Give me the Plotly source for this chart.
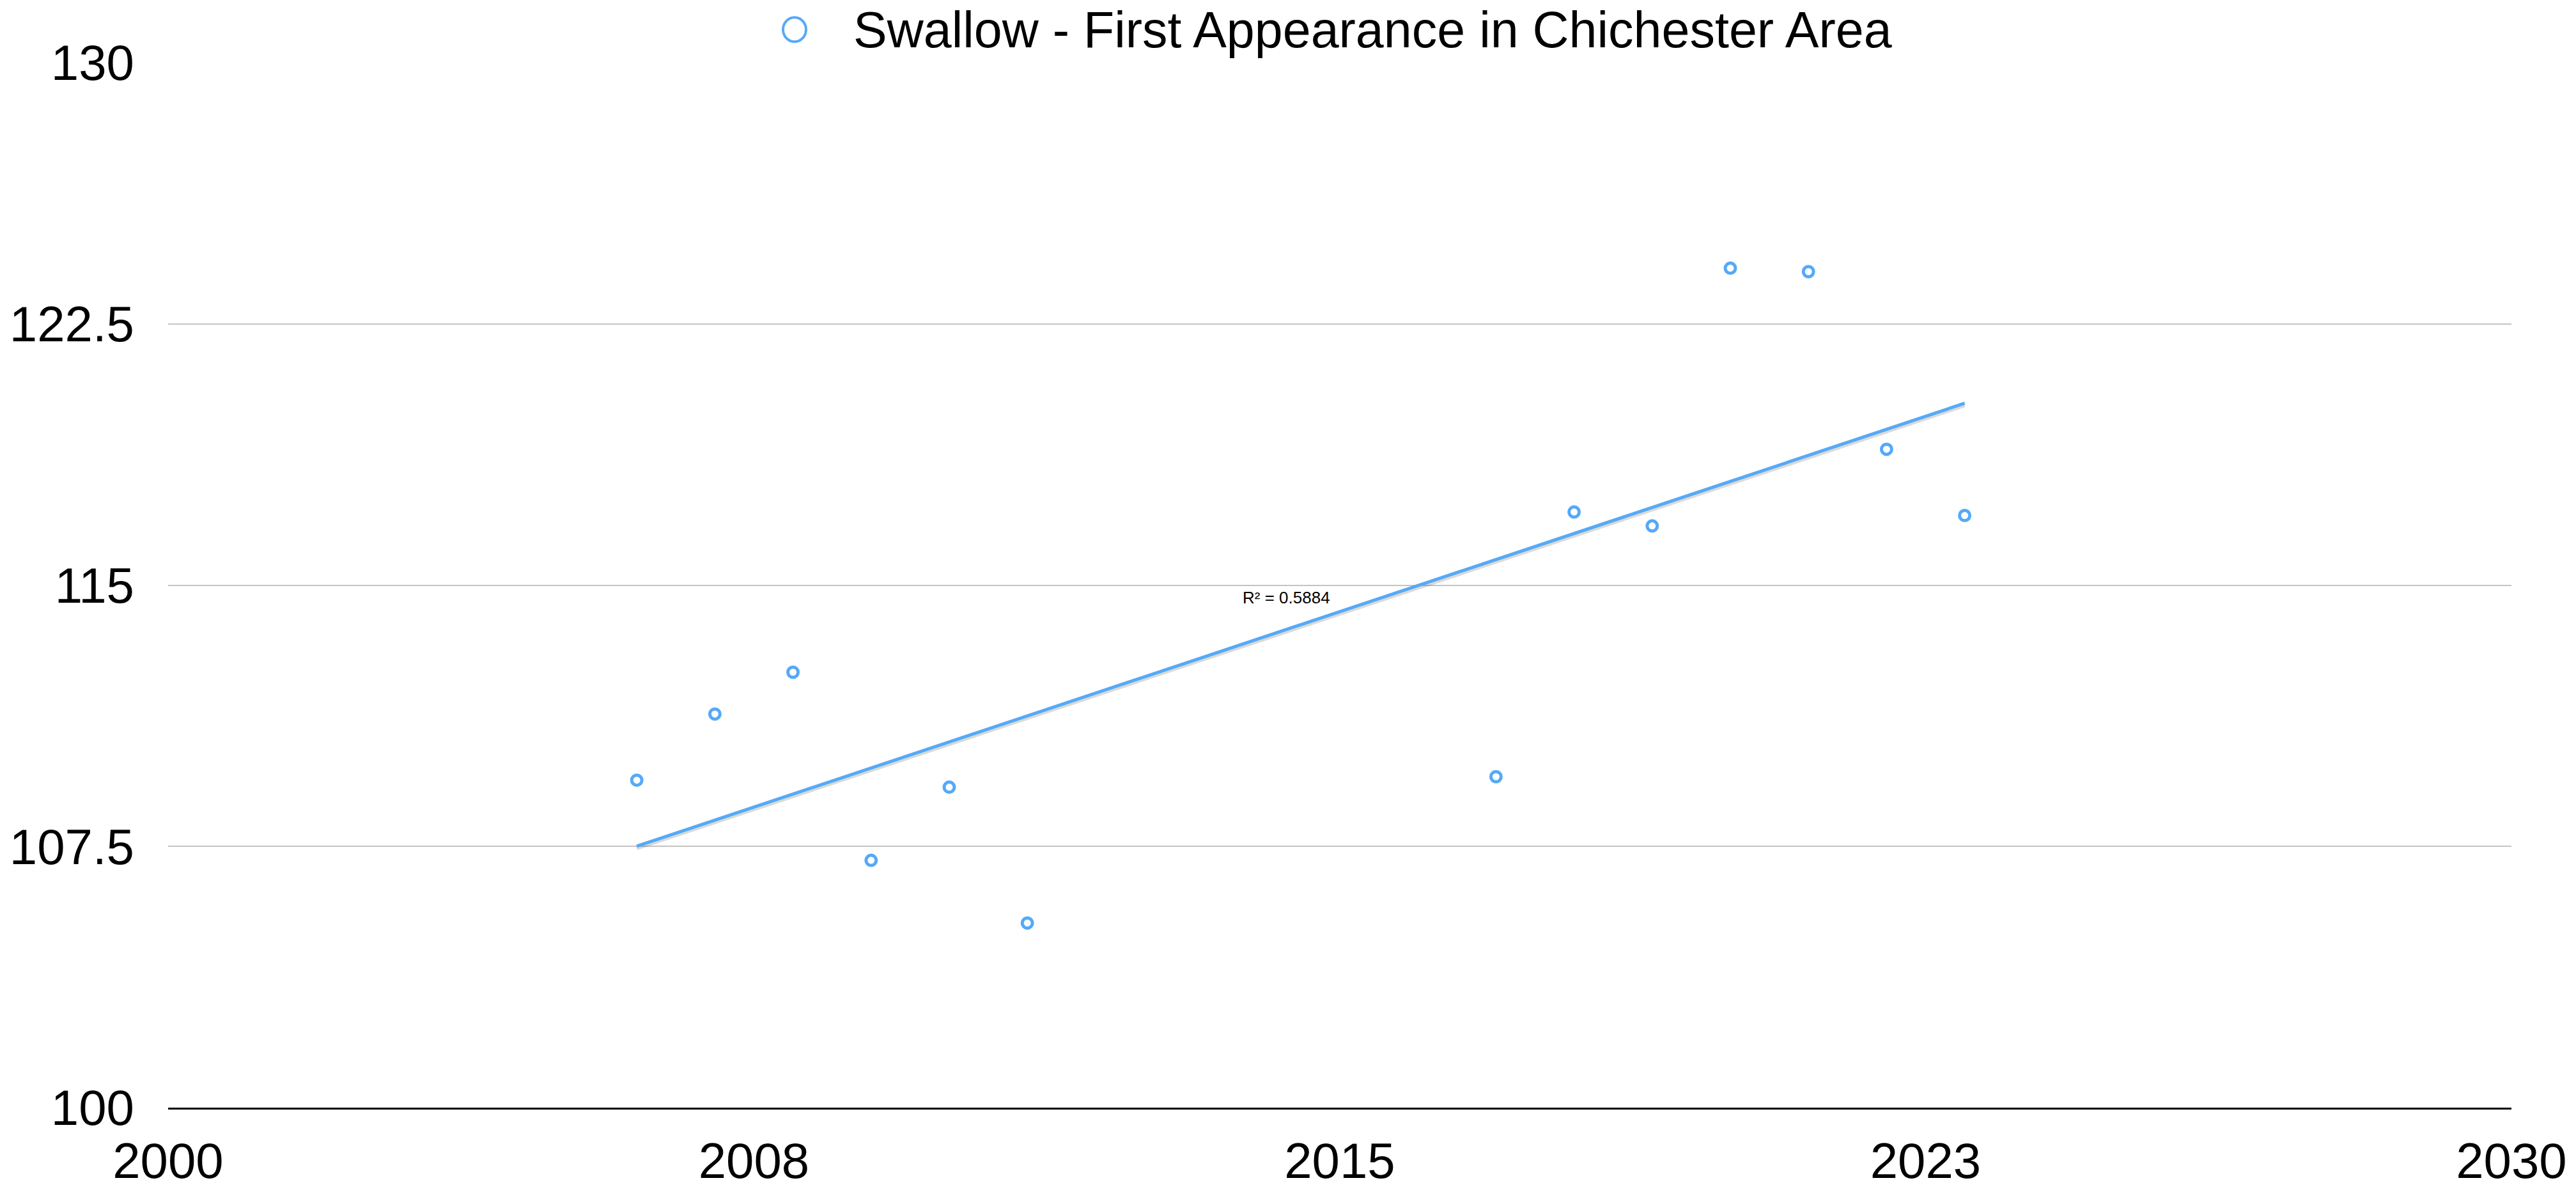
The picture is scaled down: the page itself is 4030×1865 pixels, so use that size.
import numpy as np
import plotly.graph_objects as go

# ---- data ----
years = [2006, 2007, 2008, 2009, 2010, 2011, 2017, 2018, 2019, 2020, 2021, 2022, 2023]
first_day = [109.4, 111.3, 112.5, 107.1, 109.2, 105.3, 109.5, 117.1, 116.7, 124.1, 124.0, 118.9, 117.0]
series_name = "Swallow - First Appearance in Chichester Area"
r2_label = "R² = 0.5884"
x_tickvals = [2000, 2007.5, 2015, 2022.5, 2030]
x_ticktext = ["2000", "2008", "2015", "2023", "2030"]
y_tickvals = [100, 107.5, 115, 122.5, 130]
y_ticktext = ["100", "107.5", "115", "122.5", "130"]

BLUE = "#55a9f8"
FONT = "Liberation Sans, Arial, Helvetica, sans-serif"

# linear trendline from the data
slope, intercept = np.polyfit(years, first_day, 1)
tx = np.array([min(years), max(years)], dtype=float)
ty = slope * tx + intercept

fig = go.Figure()
# soft shadow under trendline
fig.add_trace(go.Scatter(x=tx, y=ty - 0.07, mode="lines",
                         line=dict(color="rgba(0,0,0,0.15)", width=5),
                         hoverinfo="skip", showlegend=False))
fig.add_trace(go.Scatter(x=tx, y=ty, mode="lines",
                         line=dict(color=BLUE, width=5),
                         hoverinfo="skip", showlegend=False))
fig.add_trace(go.Scatter(x=years, y=first_day, mode="markers", name=series_name,
                         marker=dict(symbol="circle", size=16, color="white",
                                     line=dict(color=BLUE, width=5)),
                         showlegend=False))

# manual legend entry at top
fig.add_shape(type="circle", xref="paper", yref="paper",
              xsizemode="pixel", ysizemode="pixel",
              xanchor=(1243 - 263) / 3666, yanchor=(1732.7 - 46) / 1635,
              x0=-18, x1=18, y0=-19, y1=19,
              line=dict(color=BLUE, width=4), fillcolor="white", layer="above")
fig.add_annotation(x=(1333 - 263) / 3666, y=(1732.7 - 46) / 1635, xref="paper", yref="paper",
                   text=series_name, showarrow=False, xanchor="left", yanchor="middle",
                   font=dict(family=FONT, size=79, color="black"))

# R² label
fig.add_annotation(x=2014.32, y=114.64, xref="x", yref="y", text=r2_label,
                   showarrow=False, xanchor="center", yanchor="middle",
                   font=dict(family=FONT, size=26, color="black"))

fig.update_layout(
    width=4030, height=1865,
    margin=dict(l=263, r=101, t=98, b=132),
    paper_bgcolor="white", plot_bgcolor="white",
    font=dict(family=FONT, size=78, color="black"),
    showlegend=False,
    xaxis=dict(range=[2000, 2030], tickmode="array", tickvals=x_tickvals, ticktext=x_ticktext,
               showgrid=False, zeroline=False, showline=True, linecolor="black", linewidth=2.5,
               ticks="", ticklabelstandoff=14, automargin=False,
               tickfont=dict(family=FONT, size=78, color="black")),
    yaxis=dict(range=[100, 130], tickmode="array", tickvals=y_tickvals, ticktext=y_ticktext,
               showgrid=True, gridcolor="#c4c4c4", gridwidth=2, zeroline=False, showline=False,
               ticks="", ticklabelstandoff=52, automargin=False,
               tickfont=dict(family=FONT, size=78, color="black")),
)

fig.write_html("out.html", config={"displayModeBar": False},
               post_script="document.body.style.margin='0';document.body.style.overflow='hidden';")
